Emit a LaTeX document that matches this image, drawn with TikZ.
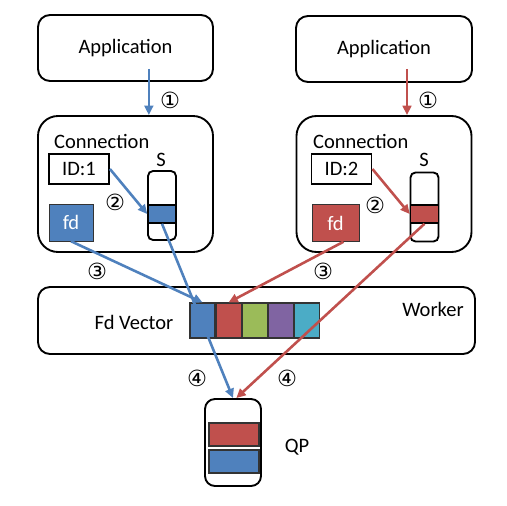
\documentclass[tikz,border=0pt]{standalone}
\usepackage{fontspec}
\setmainfont{Carlito}
\newfontfamily\circfont{DejaVu Sans}
\usepackage{xcolor}
\definecolor{ublue}{HTML}{4F81BD}
\definecolor{ured}{HTML}{C0504D}
\definecolor{ugreen}{HTML}{9BBB59}
\definecolor{upurple}{HTML}{8064A2}
\definecolor{uteal}{HTML}{4BACC6}
\usepackage{tikz}
\usetikzlibrary{arrows.meta, positioning, calc}

\begin{document}
\begin{tikzpicture}[
    x=0.03cm, y=-0.03cm,
    box/.style={
        rectangle, draw, line width=1.6pt, rounded corners=0.36cm,
        font=\fontsize{17.5}{20}\selectfont
    },
    conn/.style={box, rounded corners=0.6cm, minimum width=5.25cm, minimum height=4.08cm},
    idbox/.style={rectangle, draw, line width=1.6pt, minimum width=1.8cm,
        minimum height=0.9cm, font=\fontsize{17.5}{20}\selectfont},
    fdbox/.style={rectangle, draw=black!80, minimum height=1.11cm,
        text=white, font=\fontsize{17.5}{20}\selectfont},
    slot/.style={rectangle, draw, line width=1.6pt, rounded corners=0.15cm,
        minimum width=0.84cm, minimum height=2.07cm},
    sfill/.style={rectangle, draw, line width=1.3pt, minimum width=0.84cm,
        minimum height=0.54cm},
    cell/.style={rectangle, draw=black!80, line width=0.9pt, minimum width=0.75cm,
        minimum height=1.05cm},
    bar/.style={rectangle, draw=black!80, line width=0.9pt, minimum width=1.5cm,
        minimum height=0.69cm},
    lbl/.style={font=\fontsize{17.5}{20}\selectfont},
    num/.style={font=\circfont\fontsize{19}{21}\selectfont},
    arr/.style={-{Triangle[length=2.8mm,width=2.6mm]}, line width=2.2pt}
]
\useasboundingbox (0,0) rectangle (506,506);

% applications
\node[box, minimum width=5.25cm, minimum height=1.98cm] (appL) at (125.5,48) {Application};
\node[box, minimum width=5.28cm, minimum height=1.98cm] (appR) at (384,49) {Application};

% connections
\node[conn] (connL) at (125.5,184) {};
\node[conn] (connR) at (384,184) {};
\node[lbl, anchor=west] (cnameL) at (50,141) {Connection};
\node[lbl, anchor=west] (cnameR) at (309,141) {Connection};

\node[idbox] (idL) at (79,169) {ID:1};
\node[idbox] (idR) at (341.5,169) {ID:2};

\node[fdbox, fill=ublue, minimum width=1.32cm] (fdL) at (71,222.5) {fd};
\node[fdbox, fill=ured, minimum width=1.41cm] (fdR) at (335.5,223) {fd};

\node[slot] (slotL) at (162,205.5) {};
\node[slot] (slotR) at (424.5,207) {};
\node[sfill, fill=ublue] (sfL) at (162,214) {};
\node[sfill, fill=ured] (sfR) at (424.5,214) {};
\node[lbl] (sL) at (161,160) {S};
\node[lbl] (sR) at (424,160) {S};

% worker
\node[box, minimum width=13.11cm, minimum height=2.01cm] (worker) at (256.5,320.5) {};
\node[lbl] (wname) at (433,309) {Worker};
\node[lbl] (vname) at (134,322) {Fd Vector};
\node[cell, fill=ublue] (c1) at (202.5,320.5) {};
\node[cell, fill=ured, right=0pt of c1] (c2) {};
\node[cell, fill=ugreen, right=0pt of c2] (c3) {};
\node[cell, fill=upurple, right=0pt of c3] (c4) {};
\node[cell, fill=uteal, right=0pt of c4] (c5) {};

% queue pair
\node[box, rounded corners=0.3cm, minimum width=1.68cm, minimum height=2.61cm] (qp) at (233,442.5) {};
\node[bar, fill=ured] (qpR) at (234,434.5) {};
\node[bar, fill=ublue] (qpB) at (234,461.5) {};
\node[lbl] (qpname) at (297,447) {QP};

% step numbers
\node[num] (n1L) at (170,100) {①};
\node[num] (n1R) at (428,100) {①};
\node[num] (n2L) at (115,202) {②};
\node[num] (n2R) at (375,205) {②};
\node[num] (n3L) at (97,271) {③};
\node[num] (n3R) at (323,271) {③};
\node[num] (n4L) at (197,378) {④};
\node[num] (n4R) at (287,378) {④};

% blue flow
\draw[arr, ublue] ([xshift=0.7cm, yshift=0.39cm]appL.south) -- ([xshift=0.7cm]connL.north);
\draw[arr, ublue] (idL.east) -- (sfL.west);
\draw[arr, ublue] (fdL.south) -- (c1.north);
\draw[arr, ublue] (sfL.south) -- (qp.north);

% red flow
\draw[arr, ured] ([xshift=0.69cm, yshift=0.42cm]appR.south) -- ([xshift=0.69cm]connR.north);
\draw[arr, ured] (idR.east) -- (sfR.west);
\draw[arr, ured] ([xshift=0.24cm]fdR.south) -- (c2.north);
\draw[arr, ured] (sfR.south) -- ([xshift=0.1cm]qp.north);

\end{tikzpicture}
\end{document}
